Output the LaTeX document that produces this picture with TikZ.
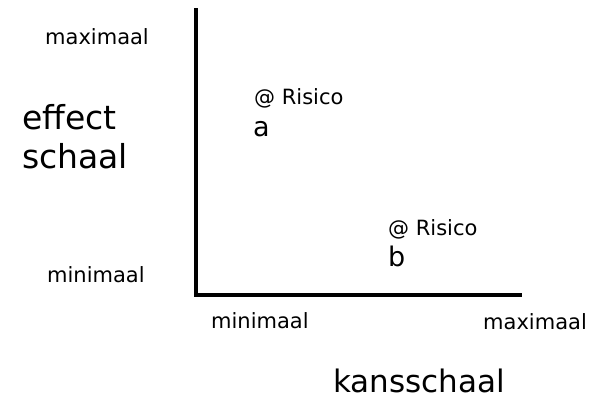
\documentclass[tikz,border=0pt]{standalone}
\usepackage{fontspec}
\setmainfont{DejaVu Sans}
\usetikzlibrary{positioning}

\tikzset{
    klein/.style = {anchor=west, inner sep=0pt, font=\fontsize{21}{25}\selectfont},
    letter/.style = {anchor=west, inner sep=0pt, font=\fontsize{27}{32}\selectfont},
    groot/.style = {anchor=west, inner sep=0pt, align=left, font=\fontsize{33}{39}\selectfont},
    as/.style = {line width=3.5pt, line cap=rect}
}

\begin{document}
\begin{tikzpicture}[x=1pt, y=-1pt]
            \useasboundingbox (0,0) rectangle (595,399);

            % Draw the two axes
            \coordinate (boven) at (196,10);
            \coordinate (oorsprong) at (196,295);
            \coordinate (rechts) at (520,295);
            \draw[as] (boven) -- (oorsprong) -- (rechts);

            % Labels on the vertical axis
            \node[klein] (ymax) at (45,37) {maximaal};
            \node[klein] (ymin) at (47,275) {minimaal};
            \node[groot] (effect) at (22,137) {effect\\schaal};

            % Labels on the horizontal axis
            \node[klein] (xmin) at (211,321) {minimaal};
            \node[klein] (xmax) at (483,322) {maximaal};
            \node[groot, font=\fontsize{31}{39}\selectfont] (kans) at (333,381) {kansschaal};

            % The two risks
            \node[klein] (risicoa) at (254,98) {@ Risico};
            \node[letter] (a) at (253,129) {a};
            \node[klein] (risicob) at (388,229) {@ Risico};
            \node[letter] (b) at (388,256) {b};
        \end{tikzpicture}
\end{document}
